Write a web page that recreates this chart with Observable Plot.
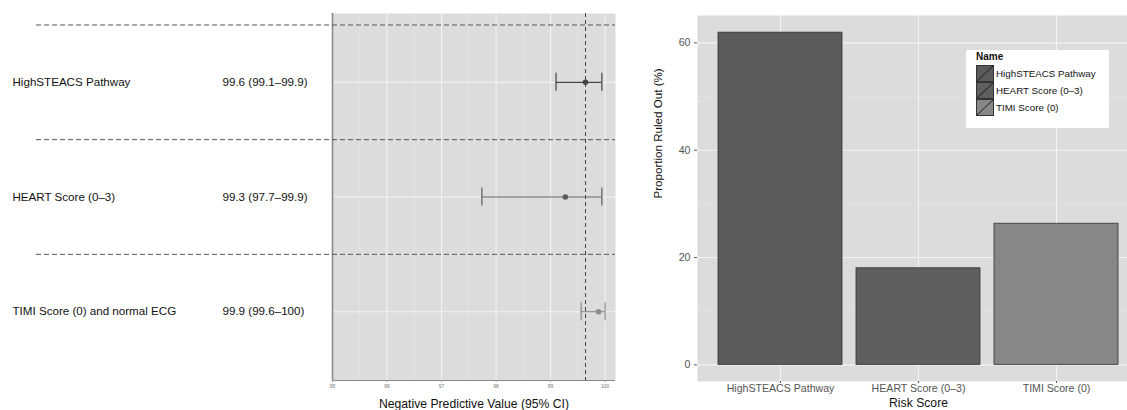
<!DOCTYPE html>
<html>
<head>
<meta charset="utf-8">
<script src="https://cdn.jsdelivr.net/npm/d3@7"></script>
<script src="https://cdn.jsdelivr.net/npm/@observablehq/plot@0.6"></script>
<style>
  html, body { margin: 0; padding: 0; background: #fff; overflow: hidden; }
  #wrap { position: relative; width: 1127px; height: 410px; overflow: hidden; font-family: "Liberation Sans", Arial, sans-serif; }
  #left { position: absolute; left: 0; top: 0; width: 630px; height: 410px; }
  #right { position: absolute; left: 630px; top: 0; width: 510px; height: 410px; }
  #left svg, #right svg { max-width: none !important; }
  #legend { position: absolute; left: 966px; top: 50px; width: 143px; height: 78px; background: #fff; }
  #legend .ttl { position: absolute; left: 10px; top: 1px; font-weight: bold; font-size: 10px; color: #111; }
  #legend .row { position: absolute; left: 10px; height: 17px; display: flex; align-items: center; font-size: 9.8px; color: #111; }
  #legend svg { display: block; margin-right: 2px; }
  svg { font-family: "Liberation Sans", Arial, sans-serif; }
</style>
</head>
<body>
<div id="wrap">
  <div id="left"></div>
  <div id="right"></div>
  <div id="legend"></div>
</div>
<script>
// ---- Forest plot data (Negative Predictive Value, 95% CI) ----
const methods = ["HighSTEACS Pathway", "HEART Score (0–3)", "TIMI Score (0) and normal ECG"];
const npv = [99.64, 99.27, 99.88];
const npvLow = [99.1, 97.74, 99.56];
const npvHigh = [99.94, 99.94, 100];
const npvLabels = ["99.6 (99.1–99.9)", "99.3 (97.7–99.9)", "99.9 (99.6–100)"];
const forestColors = ["#454545", "#5c5c5c", "#8c8c8c"];
const npvTicks = [95, 96, 97, 98, 99, 100];
const npvMinorTicks = [95.5, 96.5, 97.5, 98.5, 99.5];
const referenceNpv = 99.64;

// ---- Bar chart data (Proportion ruled out, %) ----
const scores = ["HighSTEACS Pathway", "HEART Score (0–3)", "TIMI Score (0)"];
const ruledOut = [61.9, 18.0, 26.3];
const barColors = ["#5b5b5b", "#5f5f5f", "#878787"];
const pctTicks = [0, 20, 40, 60];
const pctMinorTicks = [10, 30, 50];

// ---- Left: forest plot ----
const n = methods.length;
const forest = methods.map((m, i) => ({
  name: m, pos: n - i, npv: npv[i], lo: npvLow[i], hi: npvHigh[i],
  label: npvLabels[i], color: forestColors[i]
}));
const separators = forest.map(d => d.pos + 0.5);
const leftMargin = 332;

const left = Plot.plot({
  width: 630, height: 410,
  marginLeft: leftMargin, marginRight: 15, marginTop: 13, marginBottom: 30,
  x: { domain: [95, 100.19], axis: null },
  y: { domain: [0.4, 3.6], axis: null },
  marks: [
    Plot.frame({ fill: "#dcdcdc", stroke: null }),
    Plot.gridX(npvMinorTicks, { stroke: "#e5e5e5", strokeOpacity: 1, strokeWidth: 0.7 }),
    Plot.gridX(npvTicks, { stroke: "#f3f3f3", strokeOpacity: 1, strokeWidth: 1.1 }),
    Plot.gridY(forest.map(d => d.pos), { stroke: "#f3f3f3", strokeOpacity: 1, strokeWidth: 1.1 }),
    Plot.ruleX([95], { stroke: "#8a8a8a", strokeWidth: 1.6 }),
    Plot.ruleY([0.4], { stroke: "#8a8a8a", strokeWidth: 1 }),
    Plot.ruleY(separators, { stroke: "#555", strokeWidth: 1, strokeDasharray: "5,3", insetLeft: -(leftMargin - 36) }),
    Plot.ruleX([referenceNpv], { stroke: "#444", strokeWidth: 1, strokeDasharray: "4,3" }),
    Plot.ruleY(forest, { x1: "lo", x2: "hi", y: "pos", stroke: "color", strokeWidth: 1.2 }),
    Plot.ruleX(forest, { x: "lo", y1: "pos", y2: "pos", insetTop: -9, insetBottom: -9, stroke: "color", strokeWidth: 1.2 }),
    Plot.ruleX(forest, { x: "hi", y1: "pos", y2: "pos", insetTop: -9, insetBottom: -9, stroke: "color", strokeWidth: 1.2 }),
    Plot.dot(forest, { x: "npv", y: "pos", fill: "color", r: 2.8 }),
    Plot.text(forest, { y: "pos", text: "name", frameAnchor: "left", textAnchor: "start", dx: 12 - leftMargin, fontSize: 11.6, fill: "#111" }),
    Plot.text(forest, { y: "pos", text: "label", frameAnchor: "left", textAnchor: "start", dx: 222 - leftMargin, fontSize: 11.6, fill: "#111" }),
    Plot.axisX(npvTicks, { fontSize: 5, tickSize: 2, tickPadding: 2, stroke: "#999", fill: "#777", label: null }),
    Plot.text(["Negative Predictive Value (95% CI)"], { frameAnchor: "bottom", lineAnchor: "middle", dy: 24, fontSize: 12.2, fill: "#111" })
  ]
});
document.getElementById("left").appendChild(left);

// ---- Right: bar chart ----
const bars = scores.map((s, i) => ({ name: s, value: ruledOut[i], color: barColors[i] }));
const rightMargin = 67;
const right = Plot.plot({
  width: 510, height: 410,
  marginLeft: rightMargin, marginRight: 1, marginTop: 15, marginBottom: 29,
  x: { domain: scores, paddingInner: 0.1, paddingOuter: 0.15, axis: null },
  y: { domain: [-3.1, 65.1], axis: null },
  marks: [
    Plot.frame({ fill: "#dcdcdc", stroke: null }),
    Plot.gridY(pctMinorTicks, { stroke: "#e5e5e5", strokeOpacity: 1, strokeWidth: 0.7 }),
    Plot.gridY(pctTicks, { stroke: "#f3f3f3", strokeOpacity: 1, strokeWidth: 1.1 }),
    Plot.gridX(scores, { stroke: "#f3f3f3", strokeOpacity: 1, strokeWidth: 1.1 }),
    Plot.barY(bars, { x: "name", y: "value", fill: "color", stroke: "#333", strokeWidth: 0.8 }),
    Plot.axisY(pctTicks, { fontSize: 10.6, tickSize: 3, tickPadding: 4, stroke: "#555", fill: "#555", label: null }),
    Plot.axisX(scores, { fontSize: 10.6, tickSize: 2, tickPadding: 1, stroke: "#555", fill: "#555", label: null }),
    Plot.text(["Proportion Ruled Out (%)"], { frameAnchor: "left", rotate: -90, dx: 28 - rightMargin, fontSize: 11.6, fill: "#111" }),
    Plot.text(["Risk Score"], { frameAnchor: "bottom", lineAnchor: "middle", dy: 22, fontSize: 12.2, fill: "#111" })
  ]
});
document.getElementById("right").appendChild(right);

// ---- Legend ----
const legend = document.getElementById("legend");
const ttl = document.createElement("div");
ttl.className = "ttl"; ttl.textContent = "Name";
legend.appendChild(ttl);
scores.forEach((s, i) => {
  const row = document.createElement("div");
  row.className = "row";
  row.style.top = (15 + i * 17) + "px";
  row.innerHTML = `<svg width="18" height="17"><rect x="0.5" y="0.5" width="17" height="16" fill="${barColors[i]}" stroke="#333" stroke-width="1"/><line x1="1" y1="16" x2="17" y2="1" stroke="#111" stroke-width="0.9"/></svg><span>${s}</span>`;
  legend.appendChild(row);
});
</script>
</body>
</html>
